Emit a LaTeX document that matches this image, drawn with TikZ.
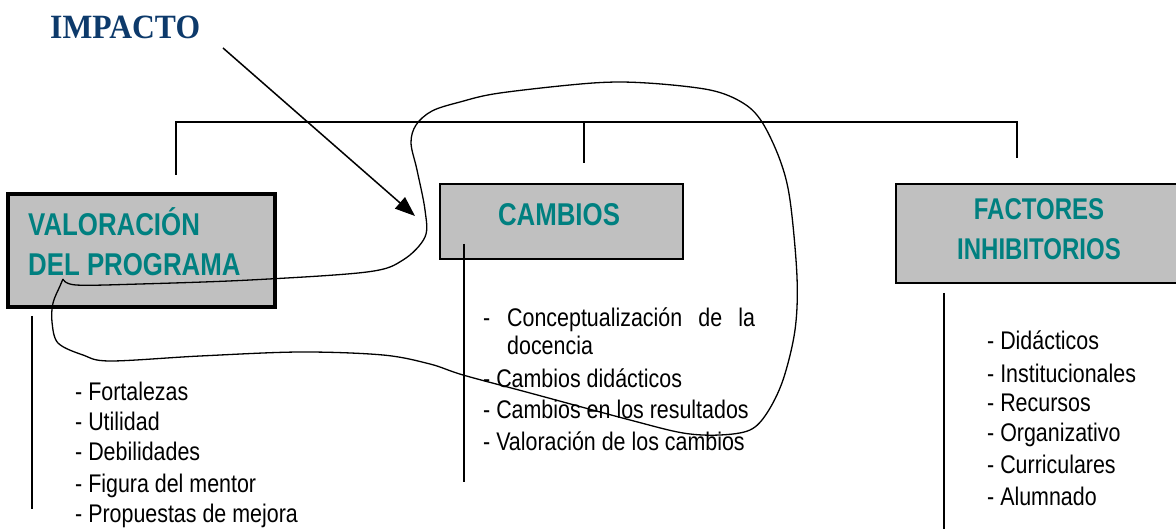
\documentclass[tikz,border=0pt]{standalone}
\usepackage{fontspec}
\usetikzlibrary{arrows.meta}
\newfontfamily\headfont[FakeStretch=0.82]{Liberation Sans}
\newfontfamily\facfont[FakeStretch=0.8]{Liberation Sans}
\newfontfamily\listfont[FakeStretch=0.84]{Liberation Sans}
\newfontfamily\impfont[FakeStretch=0.93]{Liberation Serif}
\definecolor{impblue}{HTML}{0D3A6B}
\definecolor{headteal}{HTML}{008080}
\definecolor{boxgray}{HTML}{C0C0C0}
\tikzset{
  headbox/.style={draw=black, fill=boxgray},
  headtext/.style={inner sep=0pt, text=headteal, font=\headfont\bfseries\fontsize{31.5}{32}\selectfont},
  factext/.style={inner sep=0pt, text=headteal, font=\facfont\bfseries\fontsize{30}{32}\selectfont},
  listtext/.style={inner sep=0pt, anchor=base west, font=\listfont\fontsize{25.5}{28}\selectfont},
  treeline/.style={line width=1.5pt},
  loopline/.style={line width=1.3pt, line join=round},
}
\begin{document}
\begin{tikzpicture}[x=1pt,y=-1pt]
\useasboundingbox (0,0) rectangle (1176,529);
\clip (0,0) rectangle (1176,529);

% boxes
\draw[headbox, line width=4pt] (8,194) rectangle (275,307);
\node[headtext, anchor=base west] (val1) at (28,236) {VALORACIÓN};
\node[headtext, anchor=base west] (val2) at (28,276) {DEL PROGRAMA};

\draw[headbox, line width=1.5pt] (440,184) rectangle (683,259);
\node[headtext, anchor=base] (cam) at (559,226) {CAMBIOS};

\draw[headbox, line width=1.5pt] (896,184) rectangle (1190,283);
\node[factext, anchor=base] (fac1) at (1039,220) {FACTORES};
\node[factext, anchor=base] (fac2) at (1039,260) {INHIBITORIOS};

% tree
\coordinate (valdrop) at (176,175);
\coordinate (valbar) at (176,122);
\coordinate (camdrop) at (584,163);
\coordinate (cambar) at (584,122);
\coordinate (facdrop) at (1017,158);
\draw[treeline] (valdrop) -- (valbar) -| (facdrop);
\draw[treeline] (cambar) -- (camdrop);

% list lines
\coordinate (vl1) at (32,316); \coordinate (vl2) at (32,509);
\draw[treeline] (vl1) -- (vl2);
\coordinate (cl1) at (464,244); \coordinate (cl2) at (464,482);
\draw[treeline] (cl1) -- (cl2);
\coordinate (fl1) at (944,293); \coordinate (fl2) at (944,529);
\draw[treeline] (fl1) -- (fl2);

% lists
\node[listtext] (l1) at (75,400) {- Fortalezas};
\node[listtext] (l2) at (75,430) {- Utilidad};
\node[listtext] (l3) at (75,460) {- Debilidades};
\node[listtext] (l4) at (75,492) {- Figura del mentor};
\node[listtext] (l5) at (75,522) {- Propuestas de mejora};

\node[listtext] (c0) at (483,327) {-};
\node[listtext] (c1) at (507,327) {\makebox[248pt][s]{Conceptualización\hfill de\hfill la}};
\node[listtext] (c1b) at (507,355) {docencia};
\node[listtext] (c2) at (483,388) {- Cambios didácticos};
\node[listtext] (c3) at (483,418) {- Cambios en los resultados};
\node[listtext] (c4) at (483,450) {- Valoración de los cambios};

\node[listtext] (f1) at (987,350) {- Didácticos};
\node[listtext] (f2) at (987,382) {- Institucionales};
\node[listtext] (f3) at (987,412) {- Recursos};
\node[listtext] (f4) at (987,442) {- Organizativo};
\node[listtext] (f5) at (987,473) {- Curriculares};
\node[listtext] (f6) at (987,505) {- Alumnado};

% IMPACTO
\node[inner sep=0pt, anchor=base west, text=impblue, font=\impfont\bfseries\fontsize{34}{36}\selectfont] (imp) at (50,39) {IMPACTO};
\coordinate (impstart) at (223,48);
\coordinate (imptip) at (415,216);
\draw[line width=1.5pt, -{Triangle[length=20pt,width=15pt]}] (impstart) -- (imptip);

% freehand loop
\draw[loopline] plot[smooth, tension=0.55] coordinates {
 (63,279) (76,285) (140,284) (250,280) (367,272) (403,260) (425,237)
 (425,210) (417,170) (411,143) (416,125) (432,111) (460,102) (500,93)
 (593,83) (647,83) (710,90) (743,103) (762,122) (780,160) (790,200)
 (797,277) (795,330) (783,380) (767,413) (750,430) (720,435) (683,433)
 (630,420) (530,393) (463,375) (430,364) (383,355) (300,352) (200,356)
 (110,361) (83,355) (58,343) (52,322) (53,303) (60,286) (63,279)};
\end{tikzpicture}
\end{document}
